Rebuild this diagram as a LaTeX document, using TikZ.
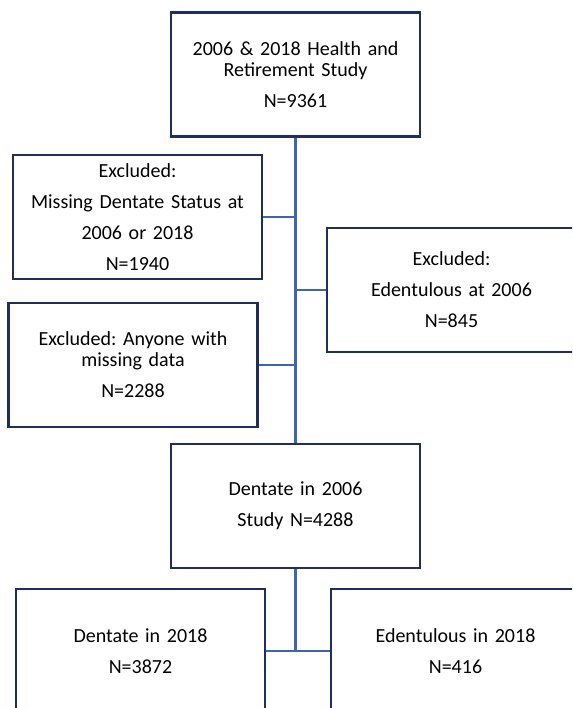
\documentclass[tikz,border=0pt]{standalone}
\usepackage{fontspec}
\setmainfont{Carlito}
\usetikzlibrary{positioning}
\definecolor{boxline}{RGB}{31,45,95}
\definecolor{flowline}{RGB}{62,101,175}
\frenchspacing

\begin{document}
\begin{tikzpicture}[
      x = 1pt, y = -1pt,
      node distance = 2mm,
      box/.style = {
        rectangle, draw = boxline, line width = 2.6pt, fill = white,
        minimum width = 249pt, minimum height = 124pt,
        inner sep = 4pt, text width = 238pt, align = center,
        font = \fontsize{20}{21}\selectfont
      },
      flow/.style = { draw = flowline, line width = 2.6pt },
    ]
    \useasboundingbox (0,0) rectangle (572,708);
    \clip (0,0) rectangle (572,708);

    % flow line
    \node[box] (study) at (295.5,74.5) {2006 \& 2018 Health and\\ Retirement Study\\[10pt] N=9361};
    \node[box] (dentate06) at (295.5,506) {Dentate in 2006\\[10pt] Study N=4288};

    % exclusions
    \node[box] (missing) at (137.5,217) {Excluded:\\[10pt] Missing Dentate Status at\\[10pt] 2006 or 2018\\[10pt] N=1940};
    \node[box] (edent06) at (451.5,290) {Excluded:\\[10pt] Edentulous at 2006\\[10pt] N=845};
    \node[box] (anyone) at (133,365) {Excluded: Anyone with\\ missing data\\[10pt] N=2288};

    % outcome in 2018
    \node[box] (dentate18) at (140.5,651) {Dentate in 2018\\[10pt] N=3872};
    \node[box] (edent18) at (455.5,651) {Edentulous in 2018\\[10pt] N=416};

    \draw[flow] (study) -- (dentate06);
    \draw[flow] (missing) -- (missing -| study.south);
    \draw[flow] (edent06) -- (edent06 -| study.south);
    \draw[flow] (anyone) -- (anyone -| study.south);
    \draw[flow] (dentate06) -- (dentate06.south |- dentate18);
    \draw[flow] (dentate18) -- (edent18);
  \end{tikzpicture}
\end{document}
